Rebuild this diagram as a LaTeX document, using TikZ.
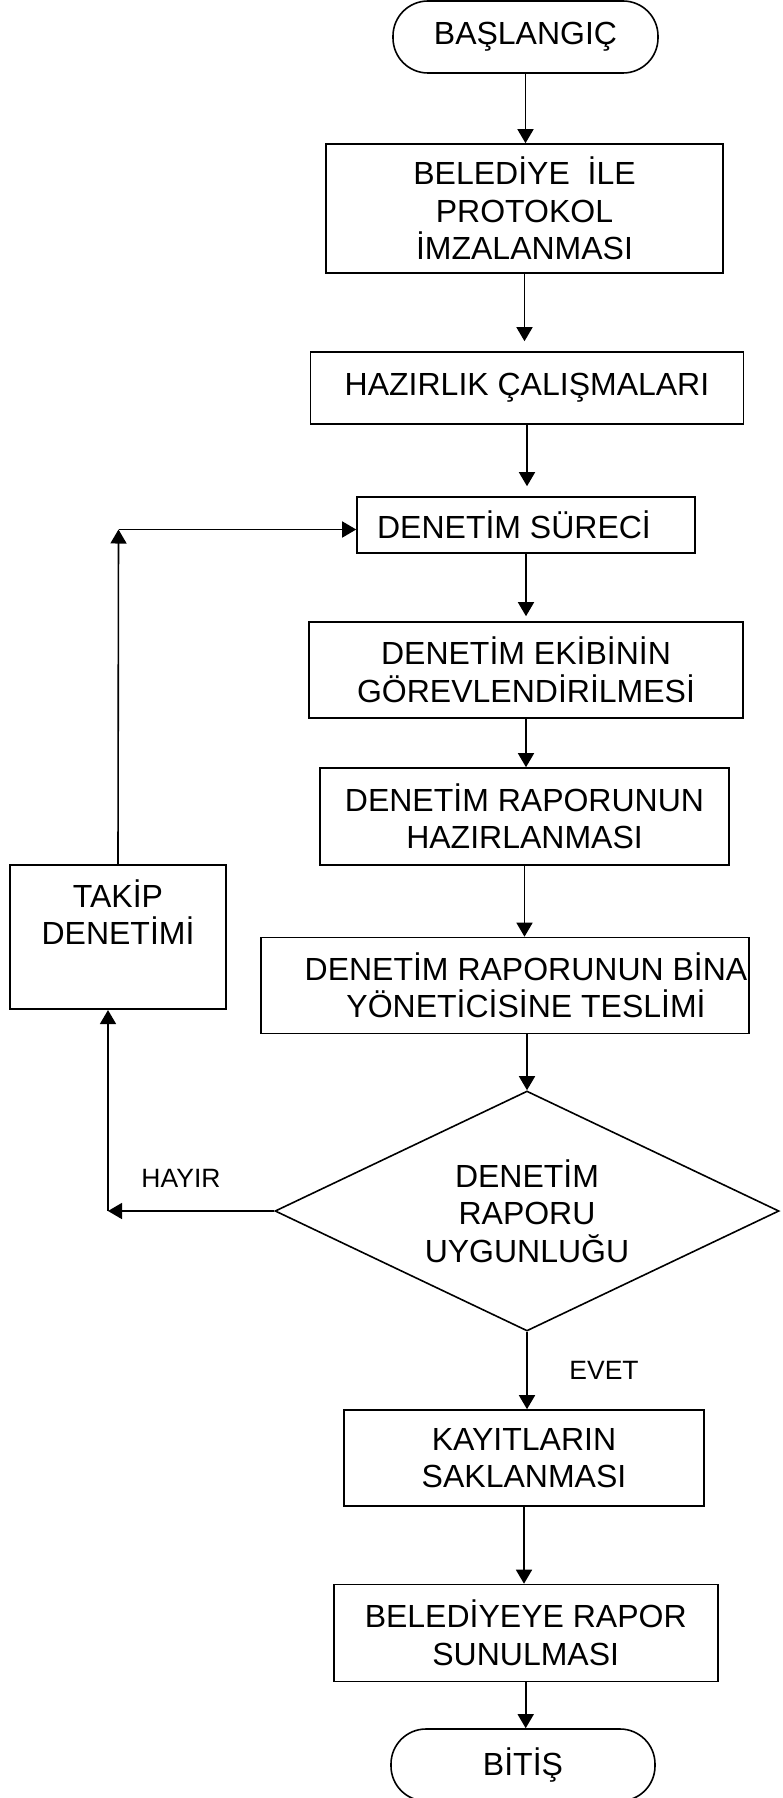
\documentclass[tikz,border=0pt]{standalone}
\usepackage{fontspec}
\setmainfont{Liberation Sans}
\usetikzlibrary{arrows.meta,shapes.geometric}
\begin{document}
\begin{tikzpicture}[x=1pt,y=-1pt,
  every node/.style={font=\fontsize{32}{37.5}\selectfont, inner sep=0pt, align=center},
  box/.style={draw, line width=1.6pt, rectangle},
  term/.style={draw, line width=1.6pt, rectangle, rounded corners=35pt},
  dec/.style={draw, line width=1.6pt, diamond, aspect=2.1},
  lbl/.style={font=\fontsize{26.5}{31}\selectfont},
  arr/.style={line width=1.6pt, -{Triangle[length=14pt,width=16pt]}}
]
\useasboundingbox (0,0) rectangle (782,1798);

\node[term, minimum width=265pt, minimum height=72pt] (start) at (525.5,37) {BAŞLANGIÇ};
\node[box, minimum width=397pt, minimum height=129pt] (b1) at (524.5,208.5) {BELEDİYE~~İLE\\PROTOKOL\\İMZALANMASI};
\node[box, minimum width=433pt, minimum height=72pt] (b2) at (527,388) {HAZIRLIK ÇALIŞMALARI};
\node[box, minimum width=338pt, minimum height=56pt] (b3) at (526,525) {DENETİM SÜRECİ\hspace*{24pt}};
\node[box, minimum width=434pt, minimum height=96pt] (b4) at (526,670) {DENETİM EKİBİNİN\\GÖREVLENDİRİLMESİ};
\node[box, minimum width=409pt, minimum height=97pt] (b5) at (524.5,816.5) {DENETİM RAPORUNUN\\HAZIRLANMASI};
\node[box, minimum width=488pt, minimum height=96pt] (b6) at (505,985.5) {};
\node (b6txt) at (526,985.5) {DENETİM RAPORUNUN BİNA\\YÖNETİCİSİNE TESLİMİ};
\node[dec, minimum width=504pt, minimum height=240pt] (dia) at (527,1211) {DENETİM\\RAPORU\\UYGUNLUĞU};
\node[box, minimum width=360pt, minimum height=96pt] (b7) at (524,1458) {KAYITLARIN\\SAKLANMASI};
\node[box, minimum width=384pt, minimum height=97pt] (b8) at (525.7,1633) {BELEDİYEYE RAPOR\\SUNULMASI};
\node[term, minimum width=264pt, minimum height=72pt] (end) at (523,1765) {BİTİŞ};

\node[box, minimum width=216pt, minimum height=144.5pt] (takip) at (118,937) {};
\node (takiptxt) at (118,912) {TAKİP\\DENETİMİ};

\node[lbl] (hayir) at (181,1178) {HAYIR};
\node[lbl] (evet) at (604,1370) {EVET};

\coordinate (fbc) at (118.5,529.5);
\coordinate (hc) at (108,1211);

\draw[arr] (start.south) -- (start.south |- b1.north);
\draw[arr, shorten >=10pt] (b1.south) -- (b1.south |- b2.north);
\draw[arr, shorten >=10pt] (b2.south) -- (b2.south |- b3.north);
\draw[arr, shorten >=5pt] (b3.south) -- (b3.south |- b4.north);
\draw[arr] (b4.south) -- (b4.south |- b5.north);
\draw[arr] (b5.south) -- (b5.south |- b6.north);
\draw[arr] (dia.north |- b6.south) -- (dia.north);
\draw[arr] (dia.south) -- (dia.south |- b7.north);
\draw[arr] (b7.south) -- (b7.south |- b8.north);
\draw[arr] (b8.south) -- (b8.south |- end.north);

\draw[arr] (dia.west) -- (hc);
\draw[arr] (hc) -- (hc |- takip.south);
\draw[arr] (takip.north) -- (fbc);
\draw[arr] (fbc) -- (fbc -| b3.west);
\end{tikzpicture}
\end{document}
